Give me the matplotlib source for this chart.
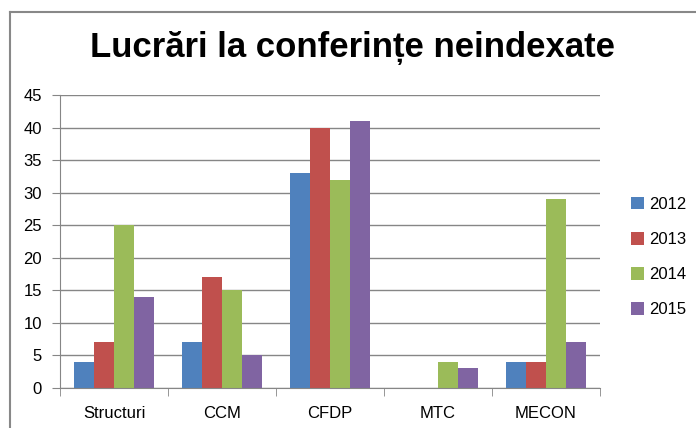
import matplotlib.pyplot as plt
import numpy as np

# data
categories = ['Structuri', 'CCM', 'CFDP', 'MTC', 'MECON']
years = ['2012', '2013', '2014', '2015']
v2012 = [4, 7, 33, 0, 4]
v2013 = [7, 17, 40, 0, 4]
v2014 = [25, 15, 32, 4, 29]
v2015 = [14, 5, 41, 3, 7]
series = [v2012, v2013, v2014, v2015]
colors = ['#4F81BD', '#C0504D', '#9BBB59', '#8064A2']

plt.rcParams['font.family'] = ['Liberation Sans', 'DejaVu Sans']

W, H = 696, 428
fig = plt.figure(figsize=(W / 100, H / 100), dpi=100)

# outer chart frame (left and top only visible)
fig.add_artist(plt.Line2D([9.5 / W, 9.5 / W], [0, 1 - 12 / H], color='#888888', lw=1.5))
fig.add_artist(plt.Line2D([9.5 / W, 1], [1 - 12 / H, 1 - 12 / H], color='#888888', lw=1.5))

# plot area: x 60..600, y 95..388 (pixels)
ax = fig.add_axes([60 / W, 1 - 388 / H, 540 / W, 293 / H])

x = np.arange(len(categories))
bw = 0.185
for i, (vals, c, y) in enumerate(zip(series, colors, years)):
    ax.bar(x + (i - 1.5) * bw, vals, bw, color=c, label=y, zorder=2)

ax.set_xlim(-0.5, len(categories) - 0.5)
ax.set_ylim(0, 45)
ax.set_yticks(range(0, 46, 5))
ax.yaxis.grid(True, color='#868686', lw=1, zorder=0)
ax.set_axisbelow(True)

for s in ['top', 'right']:
    ax.spines[s].set_visible(False)
ax.spines['left'].set_color('#868686')
ax.spines['bottom'].set_color('#868686')

ax.set_xticks(x)
ax.set_xticklabels(categories)
ax.tick_params(axis='x', length=0, pad=13, labelsize=12, colors='#000000')
ax.tick_params(axis='y', length=6, color='#868686', labelsize=12, pad=7)
# category boundary ticks
ax.set_xticks(np.arange(-0.5, len(categories), 1), minor=True)
ax.tick_params(axis='x', which='minor', length=6, direction='out', color='#868686')

fig.text(352 / W, 1 - 48 / H, 'Lucrări la conferințe neindexate', ha='center', va='center',
         fontsize=25, fontweight='bold')

leg = fig.legend(loc='upper left', bbox_to_anchor=(624 / W, 1 - 190 / H), frameon=False,
                 fontsize=12, handlelength=0.8, handleheight=0.8, labelspacing=1.2,
                 handletextpad=0.3, borderaxespad=0)

fig.savefig('out.png', dpi=100)
